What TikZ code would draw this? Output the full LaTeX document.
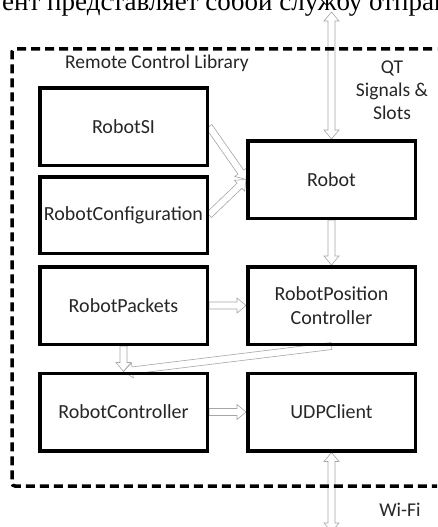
\documentclass[tikz,border=0pt]{standalone}
\usepackage{fontspec}
\setmainfont{Carlito}
\newfontfamily\serifru{Liberation Serif}
\usetikzlibrary{calc,backgrounds}
\def\sw{3.5}\def\hw{7.5}\def\hl{9}
\newcommand\blockarr[2]{%
 \filldraw[blk] let \p1=(#1), \p2=(#2), \n1={veclen(\x2-\x1,\y2-\y1)},
   \p3=({(\x2-\x1)/\n1},{(\y2-\y1)/\n1}) in
 ({\x1-\sw*\y3},{\y1+\sw*\x3}) --
 ({\x2-\hl*\x3-\sw*\y3},{\y2-\hl*\y3+\sw*\x3}) --
 ({\x2-\hl*\x3-\hw*\y3},{\y2-\hl*\y3+\hw*\x3}) --
 (\p2) --
 ({\x2-\hl*\x3+\hw*\y3},{\y2-\hl*\y3-\hw*\x3}) --
 ({\x2-\hl*\x3+\sw*\y3},{\y2-\hl*\y3-\sw*\x3}) --
 ({\x1+\sw*\y3},{\y1-\sw*\x3}) -- cycle;}
\newcommand\dblockarr[2]{%
 \filldraw[blk] let \p1=(#1), \p2=(#2), \n1={veclen(\x2-\x1,\y2-\y1)},
   \p3=({(\x2-\x1)/\n1},{(\y2-\y1)/\n1}) in
 (\p1) --
 ({\x1+\hl*\x3-\hw*\y3},{\y1+\hl*\y3+\hw*\x3}) --
 ({\x1+\hl*\x3-\sw*\y3},{\y1+\hl*\y3+\sw*\x3}) --
 ({\x2-\hl*\x3-\sw*\y3},{\y2-\hl*\y3+\sw*\x3}) --
 ({\x2-\hl*\x3-\hw*\y3},{\y2-\hl*\y3+\hw*\x3}) --
 (\p2) --
 ({\x2-\hl*\x3+\hw*\y3},{\y2-\hl*\y3-\hw*\x3}) --
 ({\x2-\hl*\x3+\sw*\y3},{\y2-\hl*\y3-\sw*\x3}) --
 ({\x1+\hl*\x3+\sw*\y3},{\y1+\hl*\y3-\sw*\x3}) --
 ({\x1+\hl*\x3+\hw*\y3},{\y1+\hl*\y3-\hw*\x3}) -- cycle;}
\begin{document}
\begin{tikzpicture}[x=1pt,y=-1pt,
  blk/.style={draw=black!35, fill=white, line width=0.6pt, line join=miter},
  box/.style={draw=black, line width=3.5pt, rectangle, minimum width=167.5pt,
    minimum height=77.5pt, text=black!85, font=\fontsize{20}{23.5}\selectfont, align=center},
  lbl/.style={text=black!85, font=\fontsize{19.5}{23}\selectfont, align=center}]
\useasboundingbox (0,0) rectangle (437,527);
\clip (0,0) rectangle (437,527);
\node[anchor=base west, inner sep=0pt, font=\serifru\fontsize{27}{27}\selectfont] (hdr) at (2,11) {ент представляет собой службу отправ};
% library frame
\draw[line width=3.5pt, dash pattern=on 9pt off 5pt, rounded corners=3pt] (460,49) -- (12,49) -- (12,486) -- (460,486);
\node[lbl] (lib) at (157,63) {Remote Control Library};
\node[lbl] (qt) at (392,90) {QT\\Signals \&\\Slots};
\node[lbl] (wifi) at (400,510) {Wi-Fi};
\coordinate (top) at (331.5,12);
\coordinate (bot) at (331.5,532);
\path (123.5,126.5) coordinate (siC) (123.5,215) coordinate (cfC) (331.5,179.5) coordinate (roC)
      (123.5,305.5) coordinate (pkC) (331.5,305.5) coordinate (pcC) (123.5,412) coordinate (rcC) (331.5,412) coordinate (udC);
\node[box] (robotsi) at (siC) {RobotSI};
\node[box, minimum height=76.5pt] (robotconf) at (cfC) {RobotConfiguration};
\node[box] (robot) at (roC) {Robot};
\node[box] (packets) at (pkC) {RobotPackets};
\node[box] (rpc) at (pcC) {RobotPosition\\Controller};
\node[box] (rc) at (rcC) {RobotController};
\node[box] (udp) at (udC) {UDPClient};
\begin{pgfonlayer}{background}
\dblockarr{top}{robot.north}
\blockarr{robotsi.east}{robot.west}
\blockarr{robotconf.east}{robot.west}
\blockarr{robot.south}{rpc.north}
\blockarr{packets.east}{rpc.west}
\blockarr{packets.south}{rc.north}
\blockarr{rpc.south}{rc.north}
\blockarr{rc.east}{udp.west}
\dblockarr{udp.south}{bot}
\end{pgfonlayer}
\end{tikzpicture}
\end{document}
